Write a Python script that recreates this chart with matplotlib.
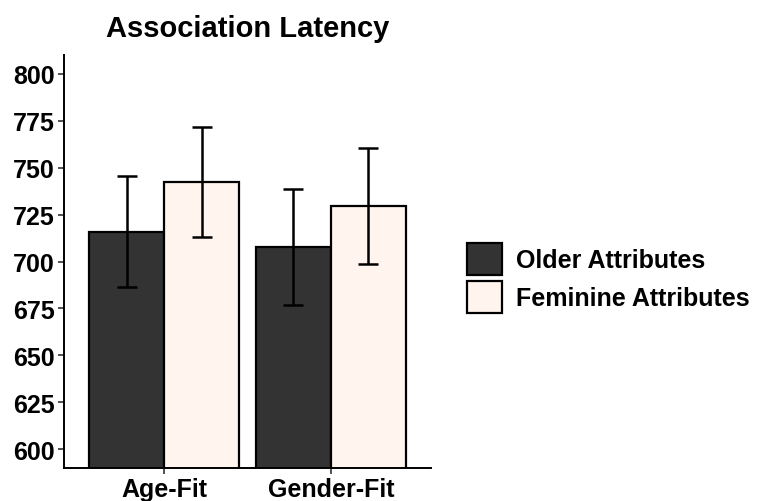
import matplotlib
matplotlib.use('Agg')
import matplotlib.pyplot as plt
import numpy as np

plt.rcParams['font.family'] = ['Liberation Sans', 'DejaVu Sans']
plt.rcParams['font.weight'] = 'bold'

conditions = ['Age-Fit', 'Gender-Fit']
groups = ['Older Attributes', 'Feminine Attributes']
means = {
    'Older Attributes': [715.8, 707.6],
    'Feminine Attributes': [742.6, 729.5],
}
errors = {
    'Older Attributes': [29.5, 30.8],
    'Feminine Attributes': [29.3, 30.7],
}
colors = {'Older Attributes': '#333333', 'Feminine Attributes': '#FFF4EE'}
yticks = [600, 625, 650, 675, 700, 725, 750, 775, 800]

fig = plt.figure(figsize=(7.58, 5.02), dpi=100)
ax = fig.add_axes([64 / 758, 1 - 469 / 502, (431 - 64) / 758, (469 - 56) / 502])

x = np.arange(1, len(conditions) + 1)
w = 0.45
for i, g in enumerate(groups):
    pos = x + (i - 0.5) * w
    ax.bar(pos, means[g], width=w, color=colors[g], edgecolor='black',
           linewidth=1.6, label=g, zorder=2)
    ax.errorbar(pos, means[g], yerr=errors[g], fmt='none', ecolor='black',
                elinewidth=1.8, capsize=7.5, capthick=1.8, zorder=3)

ax.set_xlim(0.4, 2.6)
ax.set_ylim(590, 810)
ax.set_xticks(x)
ax.set_xticklabels(conditions, fontsize=18, fontweight='bold')
ax.set_yticks(yticks)
ax.set_yticklabels([str(v) for v in yticks], fontsize=18, fontweight='bold')
ax.tick_params(axis='both', length=4.5, width=1.2, color='#333333', pad=2)
for s in ['top', 'right']:
    ax.spines[s].set_visible(False)
for s in ['left', 'bottom']:
    ax.spines[s].set_linewidth(1.4)

ax.set_title('Association Latency', fontsize=21, fontweight='bold', pad=14)

leg = fig.legend(loc='center left', bbox_to_anchor=(467 / 758, 1 - 279 / 502),
                 frameon=False, fontsize=18, handlelength=1.4, handleheight=1.62,
                 handletextpad=0.55, labelspacing=0.22, borderpad=0,
                 borderaxespad=0)
for t in leg.get_texts():
    t.set_fontweight('bold')

fig.savefig('out.png', dpi=100)
